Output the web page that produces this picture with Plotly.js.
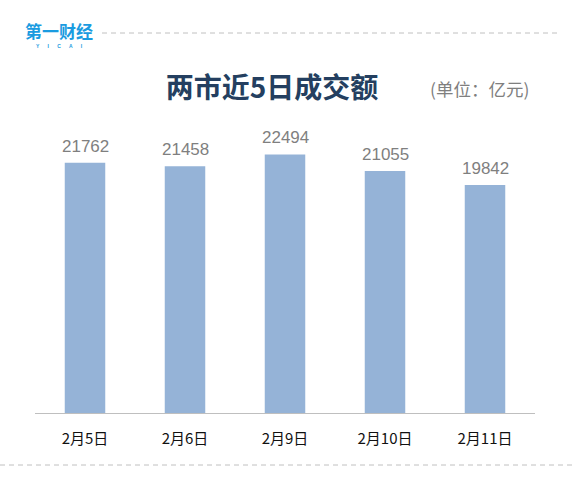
<!DOCTYPE html>
<html><head><meta charset="utf-8">
<script src="https://cdn.plot.ly/plotly-3.0.1.min.js"></script>
<style>html,body{margin:0;padding:0;background:#fff}#chart{width:575px;height:492px}</style>
</head><body><div id="chart"></div>
<script>
const categories = ["2月5日", "2月6日", "2月9日", "2月10日", "2月11日"];
const values = [21762, 21458, 22494, 21055, 19842];
const titleText = "两市近5日成交额";
const unitText = "(单位：亿元)";

const L = 35, R = 40, T = 113, B = 79, W = 575, H = 492;
const PW = W - L - R, PH = H - T - B;
const px = x => (x - L) / PW;
const py = y => (H - B - y) / PH;

const valueLabels = categories.map((c, i) => ({
  x: c, y: values[i], xref: "x", yref: "y",
  text: String(values[i]), showarrow: false, yanchor: "bottom", yshift: 5,
  font: {family: "Liberation Sans, Arial, sans-serif", size: 17, color: "#7f7f7f"}
}));

const trace = {
  type: "bar", x: categories, y: values,
  marker: {color: "#95b3d7"}, hoverinfo: "skip"
};

const layout = {
  width: W, height: H,
  margin: {l: L, r: R, t: T, b: B},
  paper_bgcolor: "#ffffff", plot_bgcolor: "#ffffff",
  showlegend: false, bargap: 0.595,
  title: {text: "<b>" + titleText + "</b>", xref: "container", yref: "container",
          x: 272/575, y: 1 - 88/492, xanchor: "center", yanchor: "middle",
          font: {family: "Noto Sans CJK SC, sans-serif", size: 28, color: "#243f60"}},
  xaxis: {showgrid: false, zeroline: false, showline: true, linecolor: "#bfbfbf", linewidth: 1,
          ticks: "", tickfont: {family: "Noto Sans CJK SC, sans-serif", size: 15, color: "#111111"},
          ticklabelstandoff: 12},
  yaxis: {range: [0, 26100], visible: false, showgrid: false, zeroline: false},
  annotations: valueLabels.concat([
    {xref: "paper", yref: "paper", x: px(479), y: py(88), text: unitText,
     showarrow: false, xanchor: "center", yanchor: "middle",
     font: {family: "Noto Sans CJK SC, sans-serif", size: 17.5, color: "#7f7f7f"}},
    {xref: "paper", yref: "paper", x: px(59), y: py(31), text: "<b>第一财经</b>",
     showarrow: false, xanchor: "center", yanchor: "middle", borderpad: 0,
     font: {family: "Noto Sans CJK SC, sans-serif", size: 17, color: "#1a9be0"}},
    {xref: "paper", yref: "paper", x: px(59), y: py(46), text: "<b>Y      I      C      A      I</b>",
     showarrow: false, xanchor: "center", yanchor: "middle", borderpad: 0,
     font: {family: "Liberation Sans, sans-serif", size: 5, color: "#1a9be0"}}
  ]),
  shapes: [
    {type: "line", xref: "paper", yref: "paper", x0: px(102), x1: px(557),
     y0: py(33), y1: py(33), line: {color: "#c0c0c0", width: 1, dash: "5px,4px"}},
    {type: "line", xref: "paper", yref: "paper", x0: px(0), x1: px(575),
     y0: py(465), y1: py(465), line: {color: "#c0c0c0", width: 1, dash: "5px,4px"}}
  ]
};

Plotly.newPlot("chart", [trace], layout, {displayModeBar: false, staticPlot: true});
</script></body></html>
